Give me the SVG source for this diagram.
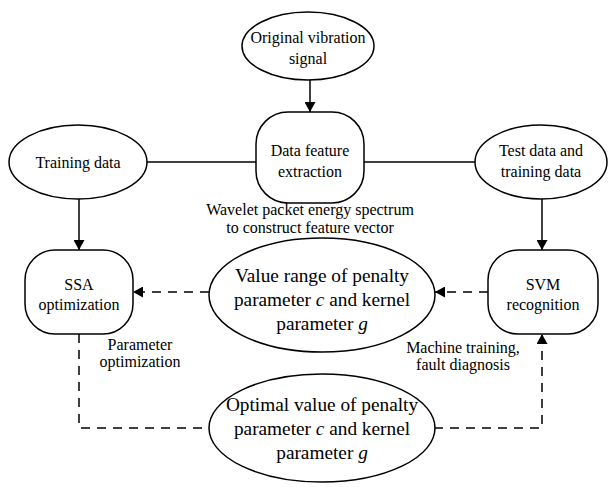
<svg xmlns="http://www.w3.org/2000/svg" width="608" height="487" viewBox="0 0 608 487">
<defs>
<style>
.s{fill:#fff;stroke:#000;stroke-width:1.5}
text{font-family:'Liberation Serif','Times New Roman',Times,serif;fill:#000;text-anchor:middle}
.t{font-size:16px}
.b{font-size:19.3px}
.l{fill:none;stroke:#000;stroke-width:1.5}
.d{fill:none;stroke:#000;stroke-width:1.5;stroke-dasharray:9,7}
</style>
<marker id="ah" viewBox="0 0 10 10" refX="10" refY="5" markerWidth="10" markerHeight="11" markerUnits="userSpaceOnUse" orient="auto" preserveAspectRatio="none">
<path d="M0,0 L10,5 L0,10 z" fill="#000"/>
</marker>
</defs>
<rect width="608" height="487" fill="#fff"/>
<g id="connectors">
<line class="l" x1="310" y1="80" x2="310" y2="112" marker-end="url(#ah)"/>
<line class="l" x1="147" y1="162" x2="256" y2="162"/>
<line class="l" x1="364" y1="162" x2="475" y2="162"/>
<line class="l" x1="79" y1="199" x2="79" y2="250" marker-end="url(#ah)"/>
<line class="l" x1="542" y1="199" x2="542" y2="250" marker-end="url(#ah)"/>
<line class="d" x1="209" y1="292" x2="133" y2="292" marker-end="url(#ah)"/>
<line class="d" x1="488" y1="292" x2="435" y2="292" marker-end="url(#ah)"/>
<polyline class="d" points="79,334 79,428 209,428"/>
<polyline class="d" points="434,428 542,428 542,334" marker-end="url(#ah)"/>
</g>
<g id="n1">
<ellipse class="s" cx="308" cy="46" rx="66" ry="34"/>
<text class="t" x="308" y="43">Original vibration</text>
<text class="t" x="308" y="64">signal</text>
</g>
<g id="n2">
<ellipse class="s" cx="78" cy="162" rx="69" ry="37"/>
<text class="t" x="78" y="168">Training data</text>
</g>
<g id="n3">
<rect class="s" x="256" y="112" width="108" height="91" rx="32" ry="32"/>
<text class="t" x="310" y="156">Data feature</text>
<text class="t" x="310" y="177">extraction</text>
</g>
<g id="n4">
<ellipse class="s" cx="541" cy="162" rx="66" ry="37"/>
<text class="t" x="541" y="156">Test data and</text>
<text class="t" x="541" y="177">training data</text>
</g>
<text class="t" x="310" y="215">Wavelet packet energy spectrum</text>
<text class="t" x="310" y="233">to construct feature vector</text>
<g id="n5">
<rect class="s" x="25" y="250" width="108" height="84" rx="30" ry="30"/>
<text class="t" x="79" y="290">SSA</text>
<text class="t" x="79" y="310">optimization</text>
</g>
<g id="n6">
<ellipse class="s" cx="322" cy="295" rx="113" ry="57"/>
<text class="b" x="322" y="282">Value range of penalty</text>
<text class="b" x="322" y="306">parameter <tspan font-style="italic">c</tspan> and kernel</text>
<text class="b" x="322" y="330">parameter <tspan font-style="italic">g</tspan></text>
</g>
<g id="n7">
<rect class="s" x="488" y="250" width="110" height="84" rx="30" ry="30"/>
<text class="t" x="543" y="290">SVM</text>
<text class="t" x="543" y="310">recognition</text>
</g>
<text class="t" x="140" y="350">Parameter</text>
<text class="t" x="140" y="367">optimization</text>
<text class="t" x="463" y="353">Machine training,</text>
<text class="t" x="463" y="370">fault diagnosis</text>
<g id="n8">
<ellipse class="s" cx="322" cy="428" rx="113" ry="54"/>
<text class="b" x="322" y="411">Optimal value of penalty</text>
<text class="b" x="322" y="435">parameter <tspan font-style="italic">c</tspan> and kernel</text>
<text class="b" x="322" y="459">parameter <tspan font-style="italic">g</tspan></text>
</g>
</svg>
